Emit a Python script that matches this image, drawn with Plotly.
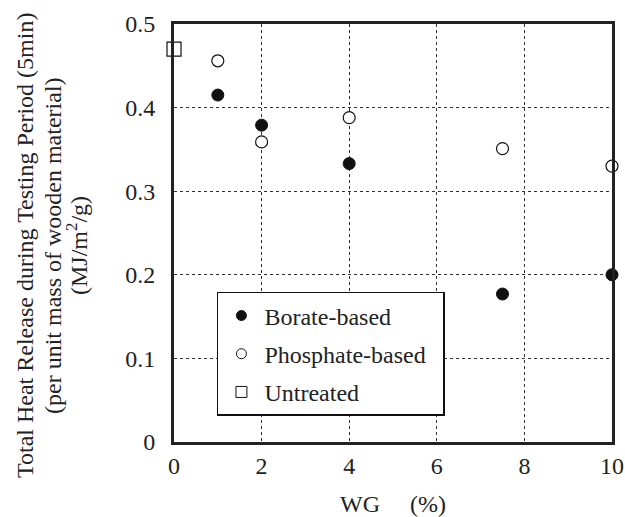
import plotly.graph_objects as go

borate_x = [1, 2, 4, 7.5, 10]
borate_y = [0.415, 0.379, 0.333, 0.177, 0.200]
phosphate_x = [1, 2, 4, 7.5, 10]
phosphate_y = [0.456, 0.359, 0.388, 0.351, 0.330]
untreated_x = [0]
untreated_y = [0.470]

x_ticks = [0, 2, 4, 6, 8, 10]
y_ticks = [0, 0.1, 0.2, 0.3, 0.4, 0.5]
y_tick_text = ["0", "0.1", "0.2", "0.3", "0.4", "0.5"]

FONT = "Liberation Serif, Times New Roman, serif"
FS = 24

fig = go.Figure()
fig.add_trace(go.Scatter(x=borate_x, y=borate_y, mode="markers", showlegend=False,
                         marker=dict(symbol="circle", size=12, color="#111",
                                     line=dict(color="#111", width=1)), cliponaxis=False))
fig.add_trace(go.Scatter(x=phosphate_x, y=phosphate_y, mode="markers", showlegend=False,
                         marker=dict(symbol="circle", size=12, color="white",
                                     line=dict(color="#111", width=1.2)), cliponaxis=False))
fig.add_trace(go.Scatter(x=untreated_x, y=untreated_y, mode="markers", showlegend=False,
                         marker=dict(symbol="square", size=14, color="white",
                                     line=dict(color="#111", width=1.2)), cliponaxis=False))

# legend entries
fig.add_trace(go.Scatter(x=[None], y=[None], mode="markers", name="Borate-based", legendgroup="a",
                         marker=dict(symbol="circle", size=10, color="#111",
                                     line=dict(color="#111", width=1))))
fig.add_trace(go.Scatter(x=[None], y=[None], mode="markers",
                         name="Phosphate-based\u00a0\u00a0", legendgroup="b",
                         marker=dict(symbol="circle", size=10, color="white",
                                     line=dict(color="#111", width=1))))
fig.add_trace(go.Scatter(x=[None], y=[None], mode="markers", name="Untreated", legendgroup="c",
                         marker=dict(symbol="square", size=11, color="white",
                                     line=dict(color="#111", width=1))))

fig.update_layout(
    width=625, height=517,
    margin=dict(l=174, r=13, t=24, b=75, autoexpand=False),
    plot_bgcolor="white", paper_bgcolor="white",
    font=dict(family=FONT, size=FS, color="#222"),
    showlegend=True,
    legend=dict(x=0.098, y=0.359, xanchor="left", yanchor="top",
                bordercolor="#111", borderwidth=1.5, bgcolor="white",
                font=dict(family=FONT, size=FS, color="#222"),
                tracegroupgap=4, itemwidth=36),
    xaxis=dict(range=[0, 10], tickvals=x_ticks, ticktext=[str(t) for t in x_ticks],
               showline=True, linecolor="#222", linewidth=3, mirror=True,
               showgrid=True, gridcolor="#333", griddash="dot", gridwidth=1,
               ticks="", zeroline=False, ticklabelstandoff=0, automargin=False,
               tickfont=dict(family=FONT, size=FS, color="#222"),
               title=dict(text="WG\u2003 (%)", font=dict(family=FONT, size=FS, color="#222"),
                          standoff=22)),
    yaxis=dict(range=[0, 0.5], tickvals=y_ticks, ticktext=y_tick_text,
               showline=True, linecolor="#222", linewidth=3, mirror=True,
               showgrid=True, gridcolor="#333", griddash="dot", gridwidth=1,
               ticks="", zeroline=False, ticklabelstandoff=11, automargin=False,
               tickfont=dict(family=FONT, size=FS, color="#222")),
)

ylabels = [
    ("Total Heat Release during Testing Period (5min)", 25),
    ("(per unit mass of wooden material)", 53),
    ("(MJ/m<sup>2</sup>/g)", 77),
]
for text, px in ylabels:
    fig.add_annotation(text=text, xref="paper", yref="paper",
                       x=(px - 174) / 438, y=(442 - 246) / 418,
                       xanchor="center", yanchor="middle", textangle=-90,
                       showarrow=False, font=dict(family=FONT, size=FS, color="#222"))

fig.write_html("out.html", config={"displayModeBar": False, "staticPlot": True},
               post_script="document.body.style.margin='0';document.body.style.overflow='hidden';")
